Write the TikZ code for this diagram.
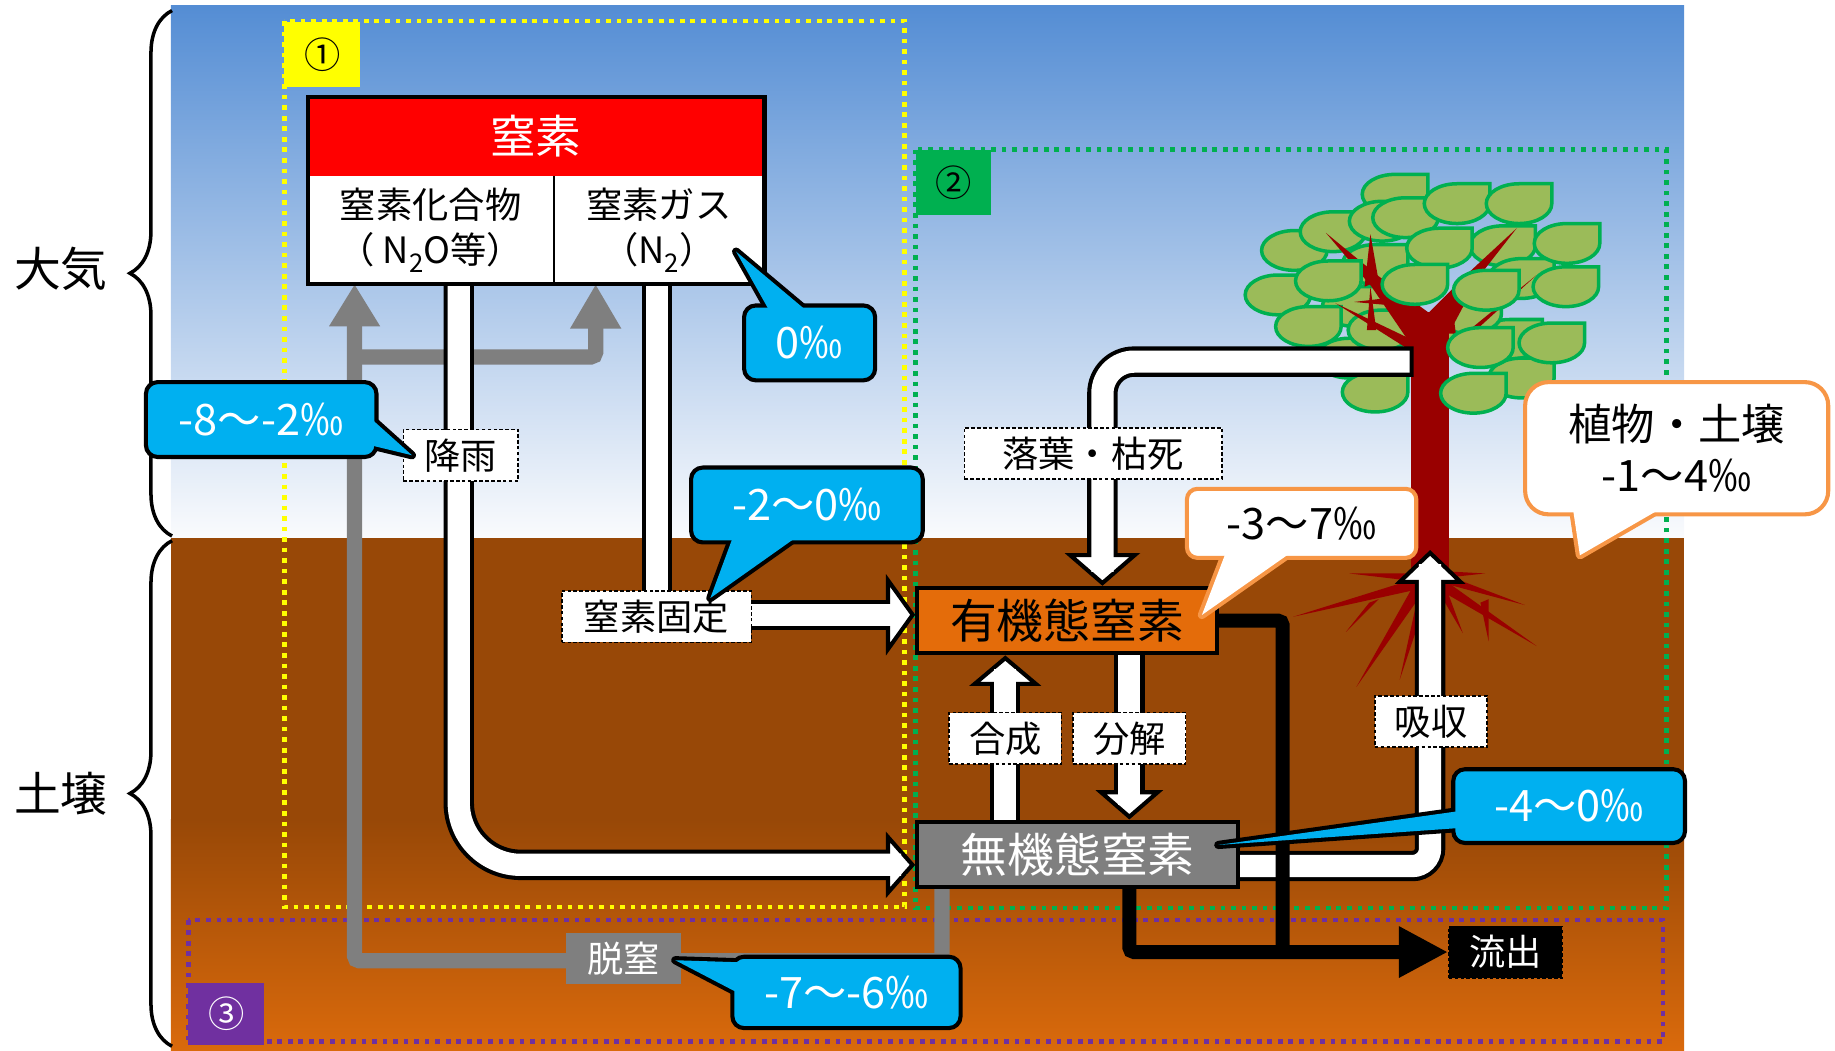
\documentclass[tikz,border=0pt]{standalone}
\usepackage{fontspec}
\setmainfont{Noto Sans CJK JP}
\usetikzlibrary{arrows.meta,calc,decorations.pathreplacing}

\definecolor{skytop}{RGB}{84,141,212}
\definecolor{skybot}{RGB}{250,251,253}
\definecolor{soil}{RGB}{152,72,7}
\definecolor{soildeep}{RGB}{218,106,12}
\definecolor{callblue}{RGB}{0,176,240}
\definecolor{callorange}{RGB}{247,150,70}
\definecolor{orgorange}{RGB}{228,108,10}
\definecolor{inorggray}{RGB}{127,127,127}
\definecolor{areayellow}{RGB}{255,255,0}
\definecolor{areagreen}{RGB}{0,176,80}
\definecolor{areapurple}{RGB}{112,48,160}
\definecolor{bark}{RGB}{153,0,0}
\definecolor{leaffill}{RGB}{155,187,89}
\definecolor{leafline}{RGB}{0,176,80}

\pgfdeclarelayer{back}
\pgfdeclarelayer{flow}
\pgfsetlayers{back,flow,main}

\newcommand{\txtsize}[2]{\fontsize{#1}{#2}\selectfont}
\newcommand{\chemsub}[1]{\raisebox{-8pt}{\txtsize{22}{22}#1}}

% white arrow with a black rim: #1 path options, #2 tip size, #3 path
\newcommand{\fatarrow}[3]{%
  \draw[pipe, #1, -{Triangle[#2, fill=white, line width=3.5pt]}] #3;
  \draw[pipecore, #1, shorten >=12pt] #3;
}
% bubble tail: #1 colour, #2 edge point, #3 tip, #4 edge point
\newcommand{\bubbletail}[4]{%
  \draw[#1, line width=7pt, line join=round] ($(#2)!-8pt!(#3)$) -- (#3) -- ($(#4)!-8pt!(#3)$);
}
\newcommand{\bubblefill}[4]{%
  \fill[#1] ($(#2)!-8pt!(#3)$) -- (#3) -- ($(#4)!-8pt!(#3)$) -- cycle;
}

\begin{document}
\begin{tikzpicture}[x=1pt, y=-1pt,
  area/.style={line width=4pt, dash pattern=on 4pt off 5pt},
  areatag/.style={minimum width=65pt, minimum height=56pt, inner sep=0pt, font=\txtsize{31}{31}},
  cell/.style={fill=white, minimum width=210pt, minimum height=92pt, inner sep=0pt, align=center, font=\txtsize{31}{38.5}},
  pool/.style={draw=black, line width=3.5pt, inner sep=0pt, minimum height=56pt, font=\txtsize{40}{40}},
  proc/.style={draw=black, fill=white, dash pattern=on 3pt off 2pt, line width=1.3pt, inner sep=0pt, minimum width=96pt, minimum height=44pt, font=\txtsize{31}{31}},
  pipe/.style={draw=black, line width=26pt},
  pipecore/.style={draw=white, line width=19pt},
  gasflow/.style={draw=inorggray, line width=13pt, rounded corners=4pt},
  drain/.style={draw=black, line width=12pt, rounded corners=4pt},
  bluebox/.style={fill=callblue, draw=black, line width=3.5pt, rounded corners=10pt, text=white, inner sep=0pt, font=\txtsize{37}{44}},
  orangebox/.style={fill=white, draw=callorange, line width=3.5pt, rounded corners=9pt, inner sep=0pt, align=center, font=\txtsize{37}{44}},
  leafshape/.style={fill=leaffill, draw=leafline, line width=3pt},
]
  \useasboundingbox (0,0) rectangle (1568,898);

  \coordinate (rainx) at (392,0);
  \coordinate (fixx) at (561.5,0);
  \coordinate (synx) at (859,0);
  \coordinate (decx) at (965,0);
  \coordinate (fallx) at (942,0);
  \coordinate (drainx) at (1096,0);
  \coordinate (denx) at (805,0);
  \coordinate (n2ox) at (303,0);
  \coordinate (n2x) at (509,0);
  \coordinate (denrow) at (0,821);
  \coordinate (splitrow) at (0,305);
  \coordinate (stem) at (1208,309);
  \coordinate (root) at (1222,470);

  \begin{pgfonlayer}{back}
    % sky and soil
    \shade[top color=skytop, bottom color=skybot] (146,5) rectangle (1439,460);
    \fill[soil] (146,460) rectangle (1439,700);
    \shade[top color=soil, bottom color=soildeep] (146,700) rectangle (1439,898);

    % the two layers
    \draw[decorate, decoration={brace, amplitude=36pt}, line width=3pt] (147,458) -- (147,9);
    \draw[decorate, decoration={brace, amplitude=36pt}, line width=3pt] (147,894) -- (147,462);
    \node[font=\txtsize{40}{40}] (atm) at (52,230) {大気};
    \node[font=\txtsize{40}{40}] (gnd) at (52,678) {土壌};

    % areas 1-3
    \draw[area, areayellow] (243,18) rectangle (773,775);
    \draw[area, areagreen] (782,128) rectangle (1424,776);
    \draw[area, areapurple] (161,786) rectangle (1421,890);
    \node[areatag, fill=areayellow] (tag1) at (275.5,46.5) {①};
    \node[areatag, fill=areagreen, minimum width=64pt] (tag2) at (814.5,156) {②};
    \node[areatag, fill=areapurple, text=white, minimum height=53pt] (tag3) at (193.5,866.5) {③};

    % tree: leaves behind the branches
    \foreach \lx/\ly in {1106/214, 1139/198, 1192/166, 1181/189, 1092/252, 1284/210,
        1300/238, 1175/226, 1158/262, 1290/290, 1153/306, 1215/292, 1300/323,
        1118/279, 1255/268, 1180/282}
      \filldraw[leafshape] (\lx+28,\ly-17) -- (\lx,\ly-17)
        arc[start angle=90, end angle=360, x radius=28pt, y radius=17pt] -- cycle;

    % branches and trunk
    \fill[bark] (1206,295) -- (1172,245) -- (1133,199) -- (1178,236) -- (1222,268) -- cycle;
    \fill[bark] (1220,268) -- (1256,232) -- (1296,195) -- (1264,236) -- (1238,285) -- cycle;
    \foreach \ax/\ay/\bx/\by/\cx/\cy in {1166/245/1171/200/1178/240,
        1200/262/1157/258/1200/253, 1236/305/1313/235/1242/293,
        1206/300/1141/259/1206/290, 1168/282/1171/245/1176/282,
        1236/285/1241/262/1244/285, 1204/300/1206/275/1210/300}
      \fill[bark] (\ax,\ay) -- (\bx,\by) -- (\cx,\cy) -- cycle;
    \fill[bark] (1206,267) rectangle (1238,500);

    % roots
    \foreach \ax/\ay/\bx/\by/\cx/\cy in {1214/493/1105/527/1214/503,
        1212/490/1153/490/1212/497, 1208/500/1159/587/1218/503,
        1213/503/1196/581/1222/503, 1232/494/1313/552/1230/504,
        1232/490/1303/517/1232/498, 1232/488/1269/490/1232/494,
        1226/500/1250/541/1234/498, 1170/515/1150/540/1178/512,
        1265/515/1272/548/1272/512}
      \fill[bark] (\ax,\ay) -- (\bx,\by) -- (\cx,\cy) -- cycle;

    % leaves in front
    \foreach \lx/\ly in {1201/186, 1245/174, 1298/174, 1339/208, 1230/212, 1338/245,
        1135/240, 1209/243, 1270/248, 1265/297, 1326/293, 1175/335, 1259/336}
      \filldraw[leafshape] (\lx+28,\ly-17) -- (\lx,\ly-17)
        arc[start angle=90, end angle=360, x radius=28pt, y radius=17pt] -- cycle;
  \end{pgfonlayer}

  % nitrogen in the air
  \node[fill=red, text=white, minimum width=389pt, minimum height=67pt, inner sep=0pt,
    font=\txtsize{39}{39}] (nitro) at (457.8,116.5) {窒素};
  \node[cell] (comp) at (368,196.6) {窒素化合物\\（ N\chemsub{2}O等）};
  \node[cell, minimum width=180pt] (gas) at (563,196.6) {窒素ガス\\（N\chemsub{2}）};
  \draw[line width=1.5pt] (comp.north east) -- (comp.south east);
  \draw[line width=4pt] (nitro.north west) rectangle (gas.south east);

  % nitrogen in the soil
  \node[pool, fill=orgorange, minimum width=256pt] (org) at (911.8,530.3) {有機態窒素};
  \node[pool, fill=inorggray, text=white, minimum width=274pt] (inorg) at (920.8,730) {無機態窒素};

  % processes
  \node[proc, minimum width=98pt] (rain) at (393.7,389) {降雨};
  \node[proc, minimum width=162pt] (fix) at (561,527) {窒素固定};
  \node[proc, minimum width=220pt] (fall) at (934,387.5) {落葉・枯死};
  \node[proc] (syn) at (859,631) {合成};
  \node[proc] (dec) at (965,631) {分解};
  \node[proc] (upt) at (1222.8,616.5) {吸収};
  \node[proc, fill=black, text=white, minimum width=97pt] (out) at (1286.5,813.5) {流出};
  \node[fill=inorggray, text=white, inner sep=0pt, minimum width=98pt, minimum height=44pt,
    font=\txtsize{31}{31}] (den) at (532.7,819) {脱窒};

  \begin{pgfonlayer}{flow}
    % denitrification back to the air
    \draw[gasflow, -{Triangle[width=41pt, length=36pt]}]
      (denx |- inorg.south) |- (denrow -| n2ox) -- (n2ox |- comp.south);
    \draw[gasflow, -{Triangle[width=41pt, length=38pt]}]
      (n2ox |- splitrow) -| (n2x |- gas.south);

    % white flows
    \fatarrow{rounded corners=53pt}{width=56pt, length=25pt}{(rainx |- comp.south) |- ([yshift=-9pt]inorg.west)}
    \fatarrow{}{width=69pt, length=25pt}{(fixx |- gas.south) |- ([yshift=5pt]org.west)}
    \fatarrow{}{width=61pt, length=26pt}{(synx |- inorg.north) -- (synx |- org.south)}
    \fatarrow{}{width=57pt, length=25pt}{(decx |- org.south) -- (decx |- inorg.north)}
    \fatarrow{rounded corners=15pt}{width=60pt, length=29pt}{([yshift=-10pt]inorg.east) -| (root)}
    \draw[pipe, rounded corners=27pt, -{Triangle[width=64pt, length=28pt, fill=white, line width=3.5pt]}]
      (stem) -| (fallx |- org.north);
    \draw[pipecore, rounded corners=27pt, shorten <=3.5pt, shorten >=12pt]
      (stem) -| (fallx |- org.north);

    % outflow
    \draw[drain] (org.east) -| (drainx |- out.west);
    \draw[drain, -{Triangle[width=41pt, length=42pt]}] (decx |- inorg.south) |- (out.west);
  \end{pgfonlayer}

  % isotope values
  \bubbletail{black}{323,363}{352,389}{323,382}
  \node[bluebox, minimum width=197pt, minimum height=64pt] (rainval) at (223.2,358.5) {-8～-2‰};
  \bubblefill{callblue}{323,363}{352,389}{323,382}

  \bubbletail{black}{654,259.5}{629,215}{682,259.5}
  \node[bluebox, minimum width=112pt, minimum height=64pt] (gasval) at (691.8,293) {0‰};
  \bubblefill{callblue}{654,259.5}{629,215}{682,259.5}

  \bubbletail{black}{624,465}{607,511}{672,465}
  \node[bluebox, minimum width=198pt, minimum height=64pt] (fixval) at (689.5,431.5) {-2～0‰};
  \bubblefill{callblue}{624,465}{607,511}{672,465}

  \bubbletail{black}{624,822}{577,820.5}{624,845}
  \node[bluebox, minimum width=195pt, minimum height=61pt] (denval) at (723.3,848) {-7～-6‰};
  \bubblefill{callblue}{624,822}{577,820.5}{624,845}

  \bubbletail{black}{1243,693.6}{1041,722}{1243,707.8}
  \node[bluebox, minimum width=198pt, minimum height=63pt] (inorgval) at (1340.8,688.8) {-4～0‰};
  \bubblefill{callblue}{1243,693.6}{1041,722}{1243,707.8}

  \bubbletail{callorange}{1045,478.5}{1027,525.5}{1094,478.5}
  \node[orangebox, minimum width=196pt, minimum height=59pt] (orgval) at (1112.2,447.2) {-3～7‰};
  \bubblefill{white}{1045,478.5}{1027,525.5}{1094,478.5}

  \bubbletail{callorange}{1345,441}{1350,474.5}{1408,441}
  \node[orangebox, rounded corners=20pt, minimum width=259pt, minimum height=113pt] (plantval)
    at (1432.7,383) {植物・土壌\\-1～4‰};
  \bubblefill{white}{1345,441}{1350,474.5}{1408,441}
\end{tikzpicture}
\end{document}
